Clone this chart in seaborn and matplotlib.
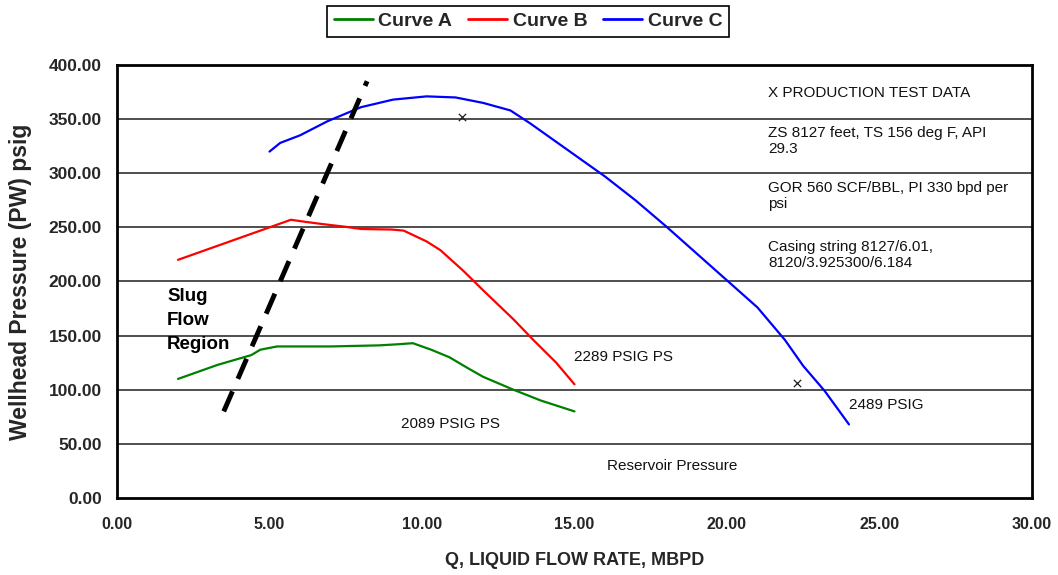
import matplotlib
matplotlib.use("Agg")
import matplotlib.pyplot as plt
import seaborn as sns
import pandas as pd

# ---- data ----
a_x = [2.0, 3.3, 4.4, 4.7, 5.25, 7.0, 8.6, 9.2, 9.7, 10.3, 10.9, 11.5, 12.0, 13.0, 13.9, 15.0]
a_y = [110, 123, 132, 137, 140, 140, 141, 142, 143, 137, 130, 120, 112, 100, 90, 80]

b_x = [2.0, 2.7, 4.9, 5.7, 6.2, 6.75, 7.5, 8.0, 9.0, 9.4, 10.15, 10.6, 11.35, 12.0, 13.0, 13.65, 14.4, 15.0]
b_y = [220, 227, 249, 257, 255, 253, 250.5, 248.5, 248, 247, 237, 229, 210, 192, 165, 146, 125, 105]

c_x = [5.0, 5.35, 6.0, 6.9, 8.0, 9.05, 10.15, 11.1, 12.0, 12.9, 13.55, 14.0, 15.0, 16.0, 17.0,
       18.0, 19.0, 20.0, 21.0, 21.9, 22.5, 23.2, 24.0]
c_y = [320, 328, 335, 348, 361, 368, 371, 370, 365, 358, 346, 337, 317, 297, 275,
       251, 226, 201, 176, 146, 122, 99, 68]

slug_x = [3.5, 8.2]
slug_y = [80, 385]

test_x = [11.3, 22.3]
test_y = [352, 106]

series_names = ["Curve A", "Curve B", "Curve C"]
series_colors = ["#008000", "#ff0000", "#0000ff"]

x_ticks = [0, 5, 10, 15, 20, 25, 30]
y_ticks = [0, 50, 100, 150, 200, 250, 300, 350, 400]

rows = []
for name, xs, ys in zip(series_names, [a_x, b_x, c_x], [a_y, b_y, c_y]):
    for i, (x, y) in enumerate(zip(xs, ys)):
        rows.append({"curve": name, "q": x, "p": y, "order": i})
df = pd.DataFrame(rows)

sns.set_theme(style="white")
plt.rcParams["font.family"] = ["Liberation Sans", "DejaVu Sans"]

fig = plt.figure(figsize=(10.58, 5.75), dpi=100)
ax = fig.add_axes([0.1106, 0.1339, 0.8648, 0.7531])

# gridlines
for yv in y_ticks[1:-1]:
    ax.axhline(yv, color="#404040", lw=1.3, zorder=1)

sns.lineplot(data=df, x="q", y="p", hue="curve", palette=dict(zip(series_names, series_colors)),
             sort=False, estimator=None, units="curve", lw=1.6, ax=ax, legend=False, zorder=3)

ax.plot(slug_x, slug_y, color="black", lw=3.5, dashes=(4.5, 2.8), zorder=4)
ax.scatter(test_x, test_y, marker="x", s=28, color="#202020", linewidths=0.9, zorder=5)

ax.set_xlim(0, 30)
ax.set_ylim(0, 400)
ax.set_xticks(x_ticks)
ax.set_yticks(y_ticks)
ax.set_xticklabels([f"{v:.2f}" for v in x_ticks])
ax.set_yticklabels([f"{v:.2f}" for v in y_ticks])
for lab in ax.get_xticklabels():
    lab.set_fontweight("bold")
    lab.set_fontsize(11.5)
for lab in ax.get_yticklabels():
    lab.set_fontweight("bold")
    lab.set_fontsize(12.5)
ax.tick_params(axis="both", direction="out", length=5, width=1.2, color="black", pad=6)
ax.tick_params(axis="x", pad=9)

for side in ["left", "bottom", "top", "right"]:
    ax.spines[side].set_visible(True)
    ax.spines[side].set_color("black")
    ax.spines[side].set_linewidth(2)

ax.set_xlabel("Q, LIQUID FLOW RATE, MBPD", fontsize=13, fontweight="bold", labelpad=14)
ax.set_ylabel("Wellhead Pressure (PW) psig", fontsize=16.5, fontweight="bold", labelpad=12)

# annotations
tk = dict(fontsize=11, color="#111111", va="center", ha="left")
ax.text(21.35, 374, "X PRODUCTION TEST DATA", **tk)
ax.text(21.35, 330, "ZS 8127 feet, TS 156 deg F, API\n29.3", linespacing=1.15, **tk)
ax.text(21.35, 279, "GOR 560 SCF/BBL, PI 330 bpd per\npsi", linespacing=1.15, **tk)
ax.text(21.35, 224.5, "Casing string 8127/6.01,\n8120/3.925300/6.184", linespacing=1.25, **tk)
ax.text(1.64, 164, "Slug\nFlow\nRegion", fontsize=13.5, fontweight="bold", va="center", ha="left",
        linespacing=1.55, color="black")
ax.text(15.0, 130, "2289 PSIG PS", **tk)
ax.text(9.3, 68, "2089 PSIG PS", **tk)
ax.text(24.0, 86, "2489 PSIG", **tk)
ax.text(16.05, 29.5, "Reservoir Pressure", **tk)

handles = [plt.Line2D([0], [0], color=c, lw=2) for c in series_colors]
leg = fig.legend(handles, series_names, loc="center", bbox_to_anchor=(0.499, 0.963), ncol=3,
                 frameon=True, fancybox=False, edgecolor="black", framealpha=1,
                 prop={"weight": "bold", "size": 14}, handlelength=2.0, handletextpad=0.3,
                 columnspacing=0.8, borderpad=0.35)
leg.get_frame().set_linewidth(1.2)

fig.savefig("out.png", dpi=100)
